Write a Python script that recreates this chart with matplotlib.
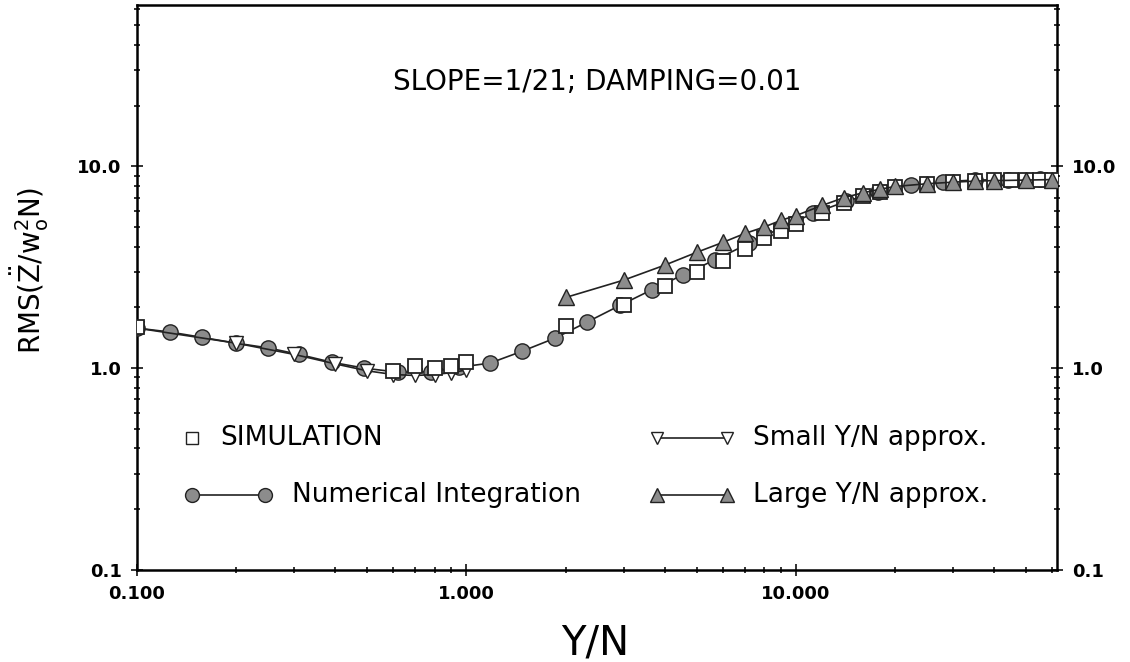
import matplotlib
matplotlib.use("Agg")
from matplotlib import pyplot as plt
from matplotlib.ticker import FixedLocator, FormatStrFormatter, LogLocator, NullFormatter

# numerical integration (filled circles)
num_x = [0.10, 0.126, 0.158, 0.20, 0.25, 0.31, 0.39, 0.49, 0.62, 0.78, 0.95,
         1.18, 1.47, 1.86, 2.32, 2.93, 3.66, 4.54, 5.7, 7.2, 9.0, 11.3, 14.2,
         17.8, 22.4, 28.0, 35.0, 44.0, 55.0]
num_y = [1.58, 1.51, 1.42, 1.33, 1.26, 1.17, 1.07, 1.00, 0.955, 0.96, 1.01,
         1.06, 1.21, 1.41, 1.69, 2.05, 2.45, 2.9, 3.45, 4.15, 4.95, 5.85, 6.7,
         7.5, 8.1, 8.4, 8.55, 8.6, 8.65]

# simulation (open squares)
sim_x = [0.1, 0.6, 0.7, 0.8, 0.9, 1.0, 2.0, 3.0, 4.0, 5.0, 6.0, 7.0, 8.0, 9.0,
         10.0, 12.0, 14.0, 16.0, 18.0, 20.0, 25.0, 30.0, 35.0, 40.0, 45.0,
         50.0, 55.0, 60.0]
sim_y = [1.6, 0.97, 1.02, 1.0, 1.03, 1.07, 1.62, 2.05, 2.55, 3.0, 3.4, 3.9,
         4.4, 4.8, 5.2, 5.9, 6.6, 7.1, 7.5, 7.9, 8.2, 8.4, 8.5, 8.55, 8.6,
         8.6, 8.6, 8.6]

# small Y/N approximation (down triangles)
small_x = [0.1, 0.2, 0.3, 0.4, 0.5, 0.6, 0.7, 0.8, 0.9, 1.0]
small_y = [1.58, 1.33, 1.17, 1.05, 0.97, 0.93, 0.92, 0.93, 0.95, 0.98]

# large Y/N approximation (up triangles)
large_x = [2.0, 3.0, 4.0, 5.0, 6.0, 7.0, 8.0, 9.0, 10.0, 12.0, 14.0, 16.0,
           18.0, 20.0, 25.0, 30.0, 35.0, 40.0, 50.0, 60.0]
large_y = [2.24, 2.73, 3.24, 3.75, 4.2, 4.65, 5.0, 5.4, 5.7, 6.4, 7.0, 7.4,
           7.7, 7.95, 8.2, 8.35, 8.45, 8.5, 8.55, 8.6]

x_ticks = [0.1, 1.0, 10.0]
y_ticks = [0.1, 1.0, 10.0]

fill = "#8c8c8c"
edge = "#222222"


def plot():
    fig = plt.figure(figsize=(11.3, 6.62), dpi=100)
    ax = fig.add_axes([0.1212, 0.139, 0.8142, 0.8534])
    ax.set_xscale("log")
    ax.set_yscale("log")
    ax.set_xlim(0.1, 62)
    ax.set_ylim(0.1, 63)

    ax.plot(num_x, num_y, "-", color=edge, lw=1.2, marker="o", ms=11,
            mfc=fill, mec=edge, mew=1, zorder=3)
    ax.plot(small_x, small_y, "-", color=edge, lw=1.2, marker="v", ms=10,
            mfc="white", mec=edge, mew=1, zorder=3)
    ax.plot(sim_x, sim_y, marker="s", ls="none", ms=10,
            mfc="white", mec=edge, mew=1.3, zorder=4)
    ax.plot(large_x, large_y, "-", color=edge, lw=1.2, marker="^", ms=11,
            mfc=fill, mec=edge, mew=1, zorder=5)

    for sp in ax.spines.values():
        sp.set_linewidth(1.8)

    ax.xaxis.set_major_locator(FixedLocator(x_ticks))
    ax.yaxis.set_major_locator(FixedLocator(y_ticks))
    ax.xaxis.set_minor_locator(LogLocator(base=10, subs=range(2, 10)))
    ax.yaxis.set_minor_locator(LogLocator(base=10, subs=range(2, 10)))
    ax.xaxis.set_minor_formatter(NullFormatter())
    ax.yaxis.set_minor_formatter(NullFormatter())
    ax.xaxis.set_major_formatter(FormatStrFormatter("%.3f"))
    ax.yaxis.set_major_formatter(FormatStrFormatter("%.1f"))
    ax.tick_params(which="both", direction="inout", left=True, right=True,
                   bottom=True, top=False, labelleft=True, labelright=True,
                   width=1.3, color=edge)
    ax.tick_params(which="major", length=8, labelsize=13, pad=7)
    ax.tick_params(which="minor", length=5)
    for lab in ax.get_xticklabels() + ax.get_yticklabels():
        lab.set_fontweight("bold")

    ax.text(0.5, 0.864, "SLOPE=1/21; DAMPING=0.01", transform=ax.transAxes,
            ha="center", va="center", fontsize=20)

    # legend keys, drawn by hand like the original
    kw = dict(transform=ax.transAxes, clip_on=False, color=edge, lw=1.2, mec=edge)
    ax.plot([0.060], [0.233], marker="s", ms=9, mfc="white", ls="none", **kw)
    ax.text(0.090, 0.233, "SIMULATION", transform=ax.transAxes,
            va="center", fontsize=19)
    ax.plot([0.060, 0.139], [0.133, 0.133], marker="o", ms=10, mfc=fill, **kw)
    ax.text(0.168, 0.133, "Numerical Integration", transform=ax.transAxes,
            va="center", fontsize=19)
    ax.plot([0.565, 0.641], [0.233, 0.233], marker="v", ms=9, mfc="white", **kw)
    ax.text(0.670, 0.233, "Small Y/N approx.", transform=ax.transAxes,
            va="center", fontsize=19)
    ax.plot([0.565, 0.641], [0.133, 0.133], marker="^", ms=10, mfc=fill, **kw)
    ax.text(0.670, 0.133, "Large Y/N approx.", transform=ax.transAxes,
            va="center", fontsize=19)

    fig.text(595 / 1130, 1 - 643 / 662, "Y/N", ha="center", va="center",
             fontsize=29)
    fig.text(30 / 1130, 1 - 270 / 662, r"RMS($\ddot{\mathrm{Z}}$/w$_\mathrm{o}^2$N)",
             ha="center", va="center", rotation=90, fontsize=20)

    fig.savefig("out.png", dpi=100)
    plt.close(fig)


if __name__ == '__main__':
    plot()
